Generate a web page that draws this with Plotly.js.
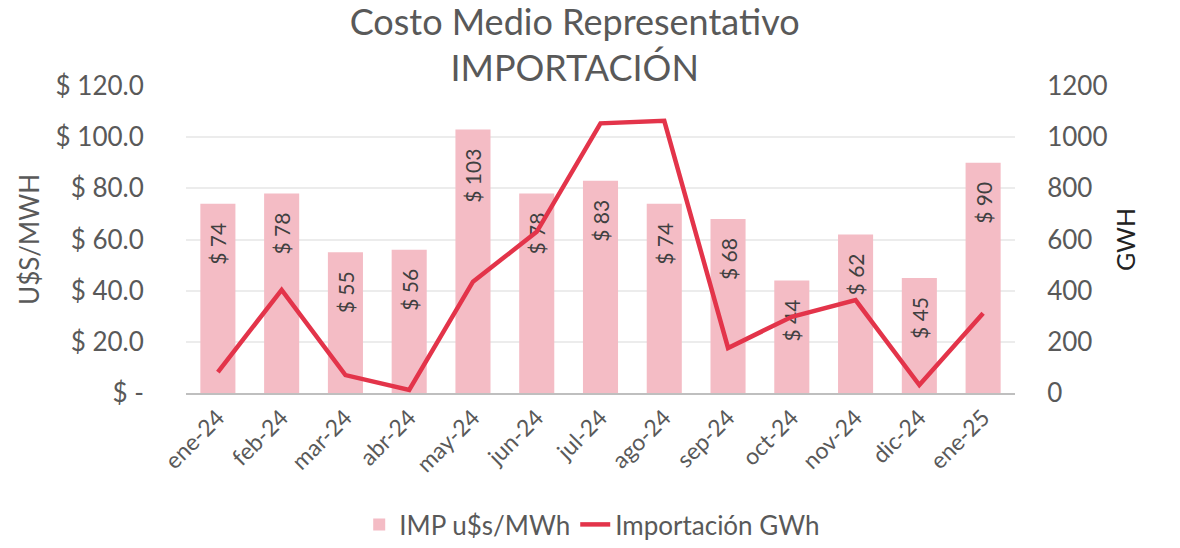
<!DOCTYPE html>
<html><head><meta charset="utf-8">
<script src="https://cdn.plot.ly/plotly-3.0.1.min.js"></script>
<style>html,body{margin:0;padding:0;background:#fff}#c{width:1180px;height:548px}</style>
</head><body><div id="c"></div>
<script>
const months = ["ene-24","feb-24","mar-24","abr-24","may-24","jun-24","jul-24","ago-24","sep-24","oct-24","nov-24","dic-24","ene-25"];
const costUSD = [74,78,55,56,103,78,83,74,68,44,62,45,90];
const importGWh = [82,403,70,12,435,630,1054,1064,176,298,363,31,312];
const leftTickVals = [0,20,40,60,80,100,120];
const leftTickText = ["$ -","$ 20.0","$ 40.0","$ 60.0","$ 80.0","$ 100.0","$ 120.0"];
const rightTickVals = [0,200,400,600,800,1000,1200];

const FONT = "Lato, 'Open Sans', sans-serif";
const GRAY = "#595959";

const bars = {
  type: "bar", name: "IMP u$s/MWh", x: months, y: costUSD,
  marker: {color: "#f4bcc5"}, width: 0.55,
  text: costUSD.map(v => "$ " + v + "\u00a0\u00a0\u00a0"), textposition: "inside", insidetextanchor: "end",
  textangle: -90, textfont: {family: FONT, size: 21, color: "#404040"},
  cliponaxis: false, hoverinfo: "skip"
};
const line = {
  type: "scatter", mode: "lines", name: "Importación GWh", x: months, y: importGWh,
  yaxis: "y2", line: {color: "#e3344a", width: 4.5}
};
const layout = {
  width: 1180, height: 548,
  margin: {l: 186, r: 165, t: 86, b: 155},
  paper_bgcolor: "#fff", plot_bgcolor: "#fff",
  font: {family: FONT, color: GRAY},
  title: {text: "Costo Medio Representativo<br>IMPORTACIÓN", font: {size: 36, color: GRAY, family: FONT},
          x: 0.487, xanchor: "center", yref: "container", y: 0.937, yanchor: "middle"},
  showlegend: true,
  legend: {orientation: "h", x: 0.49, xanchor: "center", yref: "container", y: 0, yanchor: "bottom",
           font: {size: 26, color: GRAY, family: FONT}, traceorder: "normal"},
  xaxis: {type: "category", tickangle: -45, tickfont: {size: 23, color: GRAY}, automargin: false,
          showline: true, linecolor: "#bfbfbf", linewidth: 2, ticks: "", showgrid: false, zeroline: false},
  yaxis: {range: [0, 120], tickvals: leftTickVals, ticktext: leftTickText, automargin: false,
          tickfont: {size: 26, color: GRAY}, gridcolor: "#ececec", gridwidth: 2, zeroline: false,
          ticks: "outside", ticklen: 36, tickcolor: "rgba(0,0,0,0)",
          title: {text: "U$S/MWH", font: {size: 26, color: GRAY}, standoff: 8}},
  yaxis2: {range: [0, 1200], overlaying: "y", side: "right", tickvals: rightTickVals, automargin: false,
           tickfont: {size: 26, color: GRAY}, showgrid: false, zeroline: false,
           ticks: "outside", ticklen: 26, tickcolor: "rgba(0,0,0,0)",
           title: {text: "GWH", font: {size: 25, color: "#222"}, standoff: 10}}
};
Plotly.newPlot("c", [bars, line], layout, {displayModeBar: false, staticPlot: true});
</script></body></html>
